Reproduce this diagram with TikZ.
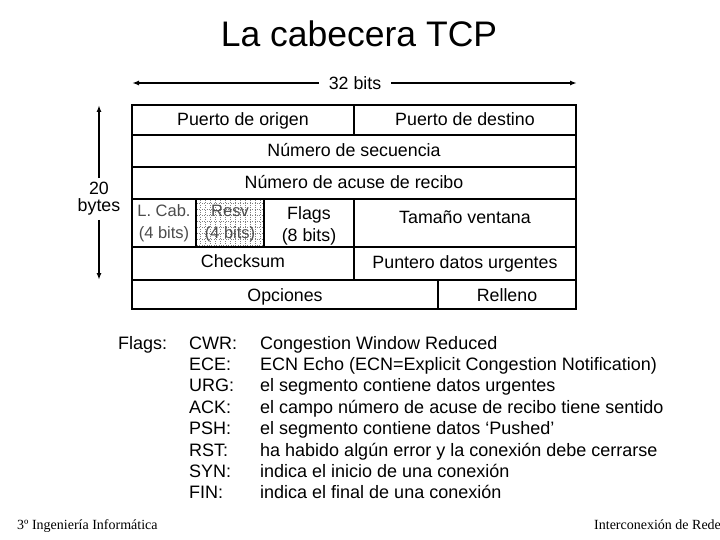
\documentclass[tikz,border=0pt]{standalone}
\usepackage{fontspec}
\setmainfont{Liberation Sans}
\newfontfamily\pieserif{Liberation Serif}
\usetikzlibrary{arrows.meta}
\begin{document}
\begin{tikzpicture}[x=1pt,y=-1pt,>={Latex[length=7pt,width=5pt]},
	campo/.style={font=\fontsize{17.8}{18}\selectfont,anchor=base,inner sep=0pt},
	lista/.style={font=\fontsize{18}{18}\selectfont,anchor=base west,inner sep=0pt},
	pie/.style={font=\pieserif\fontsize{14}{16}\selectfont,anchor=base west,inner sep=0pt},
	gris/.style={campo,font=\fontsize{16.5}{18}\selectfont,text=black!70}]
			\useasboundingbox (0,0) rectangle (720,540);
			\node[font=\fontsize{35.5}{38}\selectfont] (titulo) at (359,34) {La cabecera TCP};
			% ancho de la cabecera
			\node[font=\fontsize{17.8}{18}\selectfont,inner xsep=10pt] (bits32) at (355,83) {32 bits};
			\coordinate (bitsizq) at (132,83);
			\coordinate (bitsder) at (577,83);
			\draw[->,line width=1.6pt] (bits32) -- (bitsizq);
			\draw[->,line width=1.6pt] (bits32) -- (bitsder);
			% alto de la cabecera
			\node[font=\fontsize{17.8}{17}\selectfont,align=center,inner ysep=4pt] (bytes20) at (99,199) {20\\bytes};
			\coordinate (bytesarr) at (99,105);
			\coordinate (bytesab) at (99,280);
			\draw[->,line width=1.6pt] (bytes20) -- (bytesarr);
			\draw[->,line width=1.6pt] (bytes20) -- (bytesab);
			% campo reservado punteado
			\foreach \x in {200,205,...,262} \draw[dotted,gray] (\x,200) -- (\x,246);
			\foreach \y in {203,209,...,245} \draw[dotted,gray] (197,\y) -- (263,\y);
			% rejilla
			\draw[line width=2pt] (132,135) -- (576,135);
			\draw[line width=2pt] (132,167) -- (576,167);
			\draw[line width=2pt] (132,199) -- (576,199);
			\draw[line width=2pt] (132,247) -- (576,247);
			\draw[line width=2pt] (132,280) -- (576,280);
			\draw[line width=2pt] (354,105) -- (354,135);
			\draw[line width=2pt] (196,199) -- (196,247);
			\draw[line width=2pt] (264,199) -- (264,247);
			\draw[line width=2pt] (354,199) -- (354,280);
			\draw[line width=2pt] (438,280) -- (438,309);
			\draw[line width=2.6pt] (132,105) rectangle (576,309);
			% campos
			\node[campo] (origen) at (243,126) {Puerto de origen};
			\node[campo] (destino) at (465,126) {Puerto de destino};
			\node[campo] (secuencia) at (354,157) {Número de secuencia};
			\node[campo] (acuse) at (354,189) {Número de acuse de recibo};
			\node[gris] (lcab) at (164,216) {L. Cab.};
			\node[gris] (lcabbits) at (164,238) {(4 bits)};
			\node[gris] (resv) at (230,216) {Resv};
			\node[gris] (resvbits) at (230,238) {(4 bits)};
			\node[campo] (flags) at (309,220) {Flags};
			\node[campo] (flagsbits) at (309,241) {(8 bits)};
			\node[campo] (ventana) at (465,224) {Tamaño ventana};
			\node[campo] (checksum) at (243,267) {Checksum};
			\node[campo] (urgentes) at (465,268) {Puntero datos urgentes};
			\node[campo] (opciones) at (285,301) {Opciones};
			\node[campo] (relleno) at (507,301) {Relleno};
			% flags
			\node[lista] (flagstit) at (118,349) {Flags:};
			\node[lista] (cwr) at (189,349) {CWR:};
			\node[lista] (ece) at (189,370.4) {ECE:};
			\node[lista] (urg) at (189,391.8) {URG:};
			\node[lista] (ack) at (189,413.2) {ACK:};
			\node[lista] (psh) at (189,434.6) {PSH:};
			\node[lista] (rst) at (189,456) {RST:};
			\node[lista] (syn) at (189,477.4) {SYN:};
			\node[lista] (fin) at (189,498.8) {FIN:};
			\node[lista] (cwrtxt) at (260,349) {Congestion Window Reduced};
			\node[lista] (ecetxt) at (260,370.4) {ECN Echo (ECN=Explicit Congestion Notification)};
			\node[lista] (urgtxt) at (260,391.8) {el segmento contiene datos urgentes};
			\node[lista] (acktxt) at (260,413.2) {el campo número de acuse de recibo tiene sentido};
			\node[lista] (pshtxt) at (260,434.6) {el segmento contiene datos ‘Pushed’};
			\node[lista] (rsttxt) at (260,456) {ha habido algún error y la conexión debe cerrarse};
			\node[lista] (syntxt) at (260,477.4) {indica el inicio de una conexión};
			\node[lista] (fintxt) at (260,498.8) {indica el final de una conexión};
			% pie
			\node[pie] (curso) at (17,529) {3º Ingeniería Informática};
			\node[pie] (asignatura) at (594,529) {Interconexión de Rede};
		\end{tikzpicture}
\end{document}
